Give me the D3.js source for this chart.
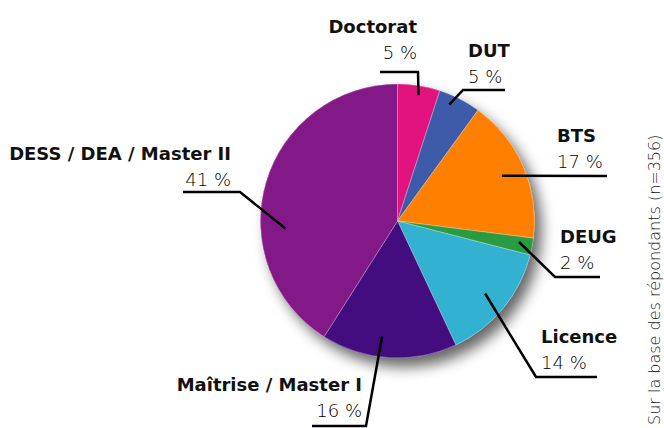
<!DOCTYPE html>
<html lang="fr">
<head>
  <meta charset="UTF-8">
  <title>Diplômes</title>
  <script src="https://d3js.org/d3.v7.min.js"></script>
  <style>
    html, body { margin: 0; padding: 0; background: #fff; }
    .cat { font-family: "DejaVu Sans", sans-serif; font-weight: bold; font-size: 18px; fill: #111; }
    .pct { font-family: "DejaVu Sans", sans-serif; font-weight: 200; font-size: 18px; fill: #000; }
    .note { font-family: "DejaVu Sans", sans-serif; font-weight: 200; font-size: 16px; fill: #222; }
    .leader { fill: none; stroke: #000; stroke-width: 2.5; }
  </style>
</head>
<body>
<div class="chart"></div>
<script>
  // données (ordre horaire depuis midi)
  const categories = ['Doctorat', 'DUT', 'BTS', 'DEUG', 'Licence', 'Maîtrise / Master I', 'DESS / DEA / Master II']
  const values = [5, 5, 17, 2, 14, 16, 41]
  const colors = ['#e2127f', '#3e5ba9', '#ff8000', '#2a9b40', '#33b1d1', '#430c7f', '#821987']
  const note = 'Sur la base des répondants (n=356)'

  const width = 664, height = 428
  const cx = 397.5, cy = 221, radius = 137

  // placement des étiquettes : décalage d'angle (deg), rayon relatif du point d'ancrage,
  // coude, fin de ligne, position du texte
  const labelLayout = {
    'Doctorat':               { shift: 0.5, k: 0.93, elbow: [418, 72],  end: [380, 72],  tx: 417, ty: 33,  anchor: 'end' },
    'DUT':                    { shift: -3,  k: 0.93, elbow: [463, 90],  end: [505, 90],  tx: 468, ty: 57,  anchor: 'start' },
    'BTS':                    { shift: 0,   k: 0.83, elbow: null,       end: [607, 176], tx: 557, ty: 142, anchor: 'start' },
    'DEUG':                   { shift: -1,  k: 0.9,  elbow: [555, 277], end: [600, 277], tx: 560, ty: 243, anchor: 'start' },
    'Licence':                { shift: 0,   k: 0.83, elbow: [536, 377], end: [597, 377], tx: 541, ty: 343, anchor: 'start' },
    'Maîtrise / Master I':    { shift: 4,   k: 0.85, elbow: [366, 426], end: [312, 426], tx: 362, ty: 391, anchor: 'end' },
    'DESS / DEA / Master II': { shift: -20, k: 0.82, elbow: [240, 192], end: [183, 192], tx: 231, ty: 160, anchor: 'end' }
  }

  const data = categories.map((c, i) => ({ cat: c, value: values[i], color: colors[i] }))

  const svg = d3.select('.chart')
    .append('svg')
    .attr('width', width)
    .attr('height', height)

  const filter = svg.append('defs').append('filter')
    .attr('id', 'pieShadow')
    .attr('x', '-20%').attr('y', '-20%')
    .attr('width', '150%').attr('height', '150%')
  filter.append('feDropShadow')
    .attr('dx', 7).attr('dy', 9)
    .attr('stdDeviation', 7)
    .attr('flood-color', '#000')
    .attr('flood-opacity', 0.6)

  const pie = d3.pie().sort(null).value(d => d.value)
  const arc = d3.arc().innerRadius(0).outerRadius(radius)
  const arcs = pie(data)

  const g = svg.append('g').attr('transform', 'translate(' + cx + ',' + cy + ')')

  g.append('g')
    .attr('filter', 'url(#pieShadow)')
    .selectAll('path')
    .data(arcs)
    .join('path')
    .attr('d', arc)
    .attr('fill', d => d.data.color)

  g.append('g')
    .selectAll('path')
    .data(arcs)
    .join('path')
    .attr('d', arc)
    .attr('fill', d => d.data.color)
    .attr('stroke', 'rgba(255,255,255,0.45)')
    .attr('stroke-width', 0.7)

  // lignes de rappel
  const labels = svg.append('g')
  arcs.forEach(d => {
    const lay = labelLayout[d.data.cat]
    const mid = (d.startAngle + d.endAngle) / 2 + lay.shift * Math.PI / 180
    const r = radius * lay.k
    const p0 = [cx + r * Math.sin(mid), cy - r * Math.cos(mid)]
    const pts = [p0]
    if (lay.elbow) pts.push(lay.elbow)
    pts.push(lay.end)
    labels.append('path')
      .attr('class', 'leader')
      .attr('d', d3.line()(pts))

    labels.append('text')
      .attr('class', 'cat')
      .attr('x', lay.tx)
      .attr('y', lay.ty)
      .attr('text-anchor', lay.anchor)
      .text(d.data.cat)

    labels.append('text')
      .attr('class', 'pct')
      .attr('x', lay.tx)
      .attr('y', lay.ty + 26)
      .attr('text-anchor', lay.anchor)
      .text(d.data.value + ' %')
  })

  svg.append('text')
    .attr('class', 'note')
    .attr('transform', 'translate(660,425) rotate(-90)')
    .attr('text-anchor', 'start')
    .text(note)
</script>
</body>
</html>
